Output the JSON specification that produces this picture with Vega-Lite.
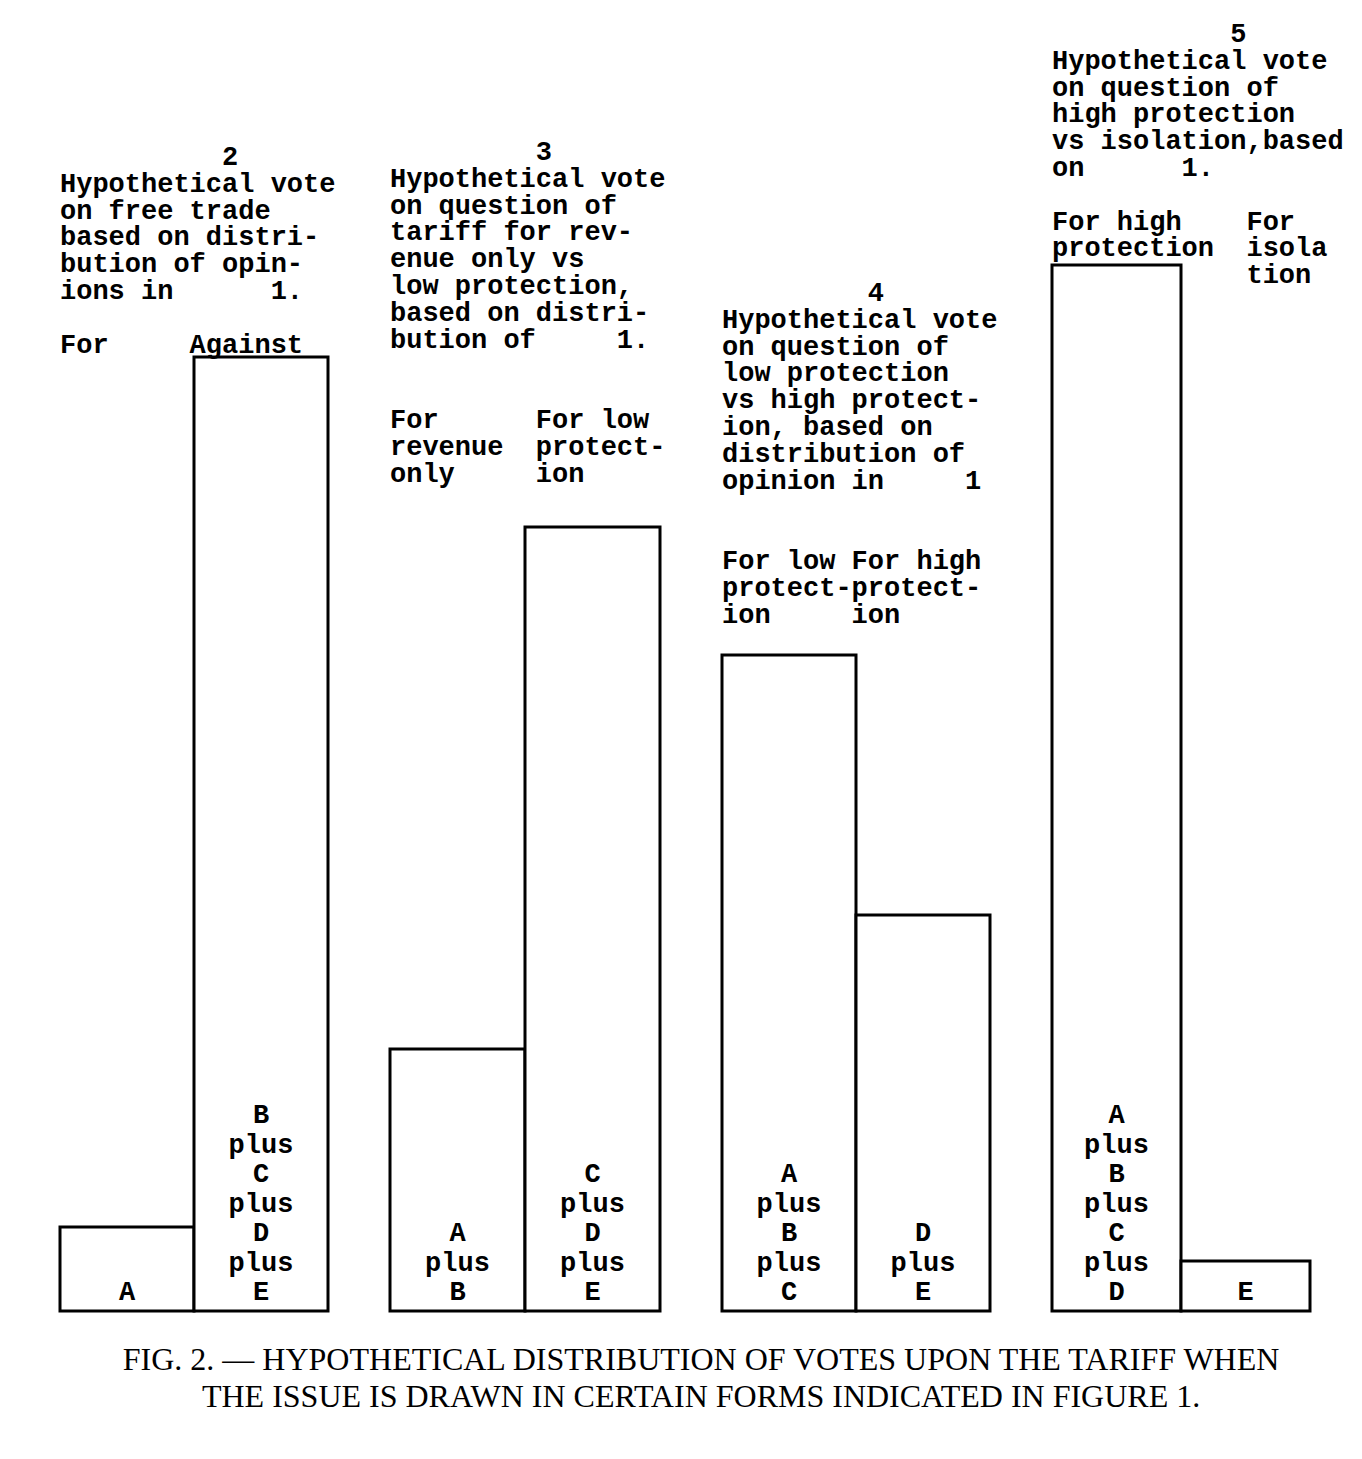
{
  "$schema": "https://vega.github.io/schema/vega-lite/v6.json",
  "background": "white",
  "padding": {"left": 58, "top": 11, "right": 0, "bottom": 0},
  "config": {"view": {"stroke": null}},
  "datasets": {
    "bars": [
      {"panel": "2", "side": 1, "votes": 84, "label": "A"},
      {"panel": "2", "side": 2, "votes": 954, "label": "B\nplus\nC\nplus\nD\nplus\nE"},
      {"panel": "3", "side": 1, "votes": 262, "label": "A\nplus\nB"},
      {"panel": "3", "side": 2, "votes": 784, "label": "C\nplus\nD\nplus\nE"},
      {"panel": "4", "side": 1, "votes": 656, "label": "A\nplus\nB\nplus\nC"},
      {"panel": "4", "side": 2, "votes": 396, "label": "D\nplus\nE"},
      {"panel": "5", "side": 1, "votes": 1046, "label": "A\nplus\nB\nplus\nC\nplus\nD"},
      {"panel": "5", "side": 2, "votes": 50, "label": "E"}
    ],
    "headers": [
      {"panel": "2", "text": "\u200b\u00a0\u00a0\u00a0\u00a0\u00a0\u00a0\u00a0\u00a0\u00a0\u00a02\nHypothetical\u00a0vote\non\u00a0free\u00a0trade\nbased\u00a0on\u00a0distri-\nbution\u00a0of\u00a0opin-\nions\u00a0in\u00a0\u00a0\u00a0\u00a0\u00a0\u00a01.\n\u200b\u00a0\nFor\u00a0\u00a0\u00a0\u00a0\u00a0Against"},
      {"panel": "3", "text": "\u200b\u00a0\u00a0\u00a0\u00a0\u00a0\u00a0\u00a0\u00a0\u00a03\nHypothetical\u00a0vote\non\u00a0question\u00a0of\ntariff\u00a0for\u00a0rev-\nenue\u00a0only\u00a0vs\nlow\u00a0protection,\nbased\u00a0on\u00a0distri-\nbution\u00a0of\u00a0\u00a0\u00a0\u00a0\u00a01.\n\u200b\u00a0\n\u200b\u00a0\nFor\u00a0\u00a0\u00a0\u00a0\u00a0\u00a0For\u00a0low\nrevenue\u00a0\u00a0protect-\nonly\u00a0\u00a0\u00a0\u00a0\u00a0ion"},
      {"panel": "4", "text": "\u200b\u00a0\u00a0\u00a0\u00a0\u00a0\u00a0\u00a0\u00a0\u00a04\nHypothetical\u00a0vote\non\u00a0question\u00a0of\nlow\u00a0protection\nvs\u00a0high\u00a0protect-\nion,\u00a0based\u00a0on\ndistribution\u00a0of\nopinion\u00a0in\u00a0\u00a0\u00a0\u00a0\u00a01\n\u200b\u00a0\n\u200b\u00a0\nFor\u00a0low\u00a0For\u00a0high\nprotect-protect-\nion\u00a0\u00a0\u00a0\u00a0\u00a0ion"},
      {"panel": "5", "text": "\u200b\u00a0\u00a0\u00a0\u00a0\u00a0\u00a0\u00a0\u00a0\u00a0\u00a0\u00a05\nHypothetical\u00a0vote\non\u00a0question\u00a0of\nhigh\u00a0protection\nvs\u00a0isolation,based\non\u00a0\u00a0\u00a0\u00a0\u00a0\u00a01.\n\u200b\u00a0\nFor\u00a0high\u00a0\u00a0\u00a0\u00a0For\nprotection\u00a0\u00a0isola\n\u200b\u00a0\u00a0\u00a0\u00a0\u00a0\u00a0\u00a0\u00a0\u00a0\u00a0\u00a0\u00a0tion"}
    ]
  },
  "title": {
    "text": ["FIG. 2. — HYPOTHETICAL DISTRIBUTION OF VOTES UPON THE TARIFF WHEN", "THE ISSUE IS DRAWN IN CERTAIN FORMS INDICATED IN FIGURE 1."],
    "orient": "bottom",
    "anchor": "middle",
    "font": "Liberation Serif",
    "fontSize": 32,
    "fontWeight": "normal",
    "color": "black",
    "lineHeight": 37,
    "offset": 32
  },
  "bounds": "flush",
  "spacing": 62,
  "hconcat": [
    {
      "width": 268, "height": 1300,
      "data": {"name": "bars"},
      "transform": [{"filter": "datum.panel == '2'"}],
      "layer": [
        {"mark": {"type": "bar", "fill": "white", "stroke": "black", "strokeWidth": 3},
         "encoding": {"x": {"field": "side", "type": "ordinal", "axis": null, "scale": {"paddingInner": 0, "paddingOuter": 0}},
                      "y": {"field": "votes", "type": "quantitative", "axis": null, "scale": {"domain": [0, 1300]}}}},
        {"transform": [{"filter": "datum.side == 1"}],
         "mark": {"type": "text", "font": "Liberation Mono", "fontWeight": "bold", "fontSize": 27, "lineBreak": "\n", "lineHeight": 29.5, "baseline": "alphabetic", "align": "center", "dy": -11, "color": "black"},
         "encoding": {"x": {"field": "side", "type": "ordinal", "bandPosition": 0.5}, "y": {"datum": 0, "type": "quantitative"}, "text": {"field": "label"}}},
        {"transform": [{"filter": "datum.side == 2"}],
         "mark": {"type": "text", "font": "Liberation Mono", "fontWeight": "bold", "fontSize": 27, "lineBreak": "\n", "lineHeight": 29.5, "baseline": "alphabetic", "align": "center", "dy": -188, "color": "black"},
         "encoding": {"x": {"field": "side", "type": "ordinal", "bandPosition": 0.5}, "y": {"datum": 0, "type": "quantitative"}, "text": {"field": "label"}}},
        {"transform": [{"joinaggregate": [{"op": "max", "field": "votes", "as": "top"}]}, {"filter": "datum.side == 1"}, {"lookup": "panel", "from": {"data": {"name": "headers"}, "key": "panel", "fields": ["text"]}}],
         "mark": {"type": "text", "font": "Liberation Mono", "fontWeight": "bold", "fontSize": 27, "lineBreak": "\n", "lineHeight": 26.8, "baseline": "alphabetic", "align": "left", "dy": -192, "color": "black"},
         "encoding": {"x": {"field": "side", "type": "ordinal", "bandPosition": 0}, "y": {"field": "top", "type": "quantitative"}, "text": {"field": "text"}}}
      ]
    },
    {
      "width": 270, "height": 1300,
      "data": {"name": "bars"},
      "transform": [{"filter": "datum.panel == '3'"}],
      "layer": [
        {"mark": {"type": "bar", "fill": "white", "stroke": "black", "strokeWidth": 3},
         "encoding": {"x": {"field": "side", "type": "ordinal", "axis": null, "scale": {"paddingInner": 0, "paddingOuter": 0}},
                      "y": {"field": "votes", "type": "quantitative", "axis": null, "scale": {"domain": [0, 1300]}}}},
        {"transform": [{"filter": "datum.side == 1"}],
         "mark": {"type": "text", "font": "Liberation Mono", "fontWeight": "bold", "fontSize": 27, "lineBreak": "\n", "lineHeight": 29.5, "baseline": "alphabetic", "align": "center", "dy": -70, "color": "black"},
         "encoding": {"x": {"field": "side", "type": "ordinal", "bandPosition": 0.5}, "y": {"datum": 0, "type": "quantitative"}, "text": {"field": "label"}}},
        {"transform": [{"filter": "datum.side == 2"}],
         "mark": {"type": "text", "font": "Liberation Mono", "fontWeight": "bold", "fontSize": 27, "lineBreak": "\n", "lineHeight": 29.5, "baseline": "alphabetic", "align": "center", "dy": -129, "color": "black"},
         "encoding": {"x": {"field": "side", "type": "ordinal", "bandPosition": 0.5}, "y": {"datum": 0, "type": "quantitative"}, "text": {"field": "label"}}},
        {"transform": [{"joinaggregate": [{"op": "max", "field": "votes", "as": "top"}]}, {"filter": "datum.side == 1"}, {"lookup": "panel", "from": {"data": {"name": "headers"}, "key": "panel", "fields": ["text"]}}],
         "mark": {"type": "text", "font": "Liberation Mono", "fontWeight": "bold", "fontSize": 27, "lineBreak": "\n", "lineHeight": 26.8, "baseline": "alphabetic", "align": "left", "dy": -367, "color": "black"},
         "encoding": {"x": {"field": "side", "type": "ordinal", "bandPosition": 0}, "y": {"field": "top", "type": "quantitative"}, "text": {"field": "text"}}}
      ]
    },
    {
      "width": 268, "height": 1300,
      "data": {"name": "bars"},
      "transform": [{"filter": "datum.panel == '4'"}],
      "layer": [
        {"mark": {"type": "bar", "fill": "white", "stroke": "black", "strokeWidth": 3},
         "encoding": {"x": {"field": "side", "type": "ordinal", "axis": null, "scale": {"paddingInner": 0, "paddingOuter": 0}},
                      "y": {"field": "votes", "type": "quantitative", "axis": null, "scale": {"domain": [0, 1300]}}}},
        {"transform": [{"filter": "datum.side == 1"}],
         "mark": {"type": "text", "font": "Liberation Mono", "fontWeight": "bold", "fontSize": 27, "lineBreak": "\n", "lineHeight": 29.5, "baseline": "alphabetic", "align": "center", "dy": -129, "color": "black"},
         "encoding": {"x": {"field": "side", "type": "ordinal", "bandPosition": 0.5}, "y": {"datum": 0, "type": "quantitative"}, "text": {"field": "label"}}},
        {"transform": [{"filter": "datum.side == 2"}],
         "mark": {"type": "text", "font": "Liberation Mono", "fontWeight": "bold", "fontSize": 27, "lineBreak": "\n", "lineHeight": 29.5, "baseline": "alphabetic", "align": "center", "dy": -70, "color": "black"},
         "encoding": {"x": {"field": "side", "type": "ordinal", "bandPosition": 0.5}, "y": {"datum": 0, "type": "quantitative"}, "text": {"field": "label"}}},
        {"transform": [{"joinaggregate": [{"op": "max", "field": "votes", "as": "top"}]}, {"filter": "datum.side == 1"}, {"lookup": "panel", "from": {"data": {"name": "headers"}, "key": "panel", "fields": ["text"]}}],
         "mark": {"type": "text", "font": "Liberation Mono", "fontWeight": "bold", "fontSize": 27, "lineBreak": "\n", "lineHeight": 26.8, "baseline": "alphabetic", "align": "left", "dy": -354, "color": "black"},
         "encoding": {"x": {"field": "side", "type": "ordinal", "bandPosition": 0}, "y": {"field": "top", "type": "quantitative"}, "text": {"field": "text"}}}
      ]
    },
    {
      "width": 258, "height": 1300,
      "data": {"name": "bars"},
      "transform": [{"filter": "datum.panel == '5'"}],
      "layer": [
        {"mark": {"type": "bar", "fill": "white", "stroke": "black", "strokeWidth": 3},
         "encoding": {"x": {"field": "side", "type": "ordinal", "axis": null, "scale": {"paddingInner": 0, "paddingOuter": 0}},
                      "y": {"field": "votes", "type": "quantitative", "axis": null, "scale": {"domain": [0, 1300]}}}},
        {"transform": [{"filter": "datum.side == 1"}],
         "mark": {"type": "text", "font": "Liberation Mono", "fontWeight": "bold", "fontSize": 27, "lineBreak": "\n", "lineHeight": 29.5, "baseline": "alphabetic", "align": "center", "dy": -188, "color": "black"},
         "encoding": {"x": {"field": "side", "type": "ordinal", "bandPosition": 0.5}, "y": {"datum": 0, "type": "quantitative"}, "text": {"field": "label"}}},
        {"transform": [{"filter": "datum.side == 2"}],
         "mark": {"type": "text", "font": "Liberation Mono", "fontWeight": "bold", "fontSize": 27, "lineBreak": "\n", "lineHeight": 29.5, "baseline": "alphabetic", "align": "center", "dy": -11, "color": "black"},
         "encoding": {"x": {"field": "side", "type": "ordinal", "bandPosition": 0.5}, "y": {"datum": 0, "type": "quantitative"}, "text": {"field": "label"}}},
        {"transform": [{"joinaggregate": [{"op": "max", "field": "votes", "as": "top"}]}, {"filter": "datum.side == 1"}, {"lookup": "panel", "from": {"data": {"name": "headers"}, "key": "panel", "fields": ["text"]}}],
         "mark": {"type": "text", "font": "Liberation Mono", "fontWeight": "bold", "fontSize": 27, "lineBreak": "\n", "lineHeight": 26.8, "baseline": "alphabetic", "align": "left", "dy": -223, "color": "black"},
         "encoding": {"x": {"field": "side", "type": "ordinal", "bandPosition": 0}, "y": {"field": "top", "type": "quantitative"}, "text": {"field": "text"}}}
      ]
    }
  ]
}
